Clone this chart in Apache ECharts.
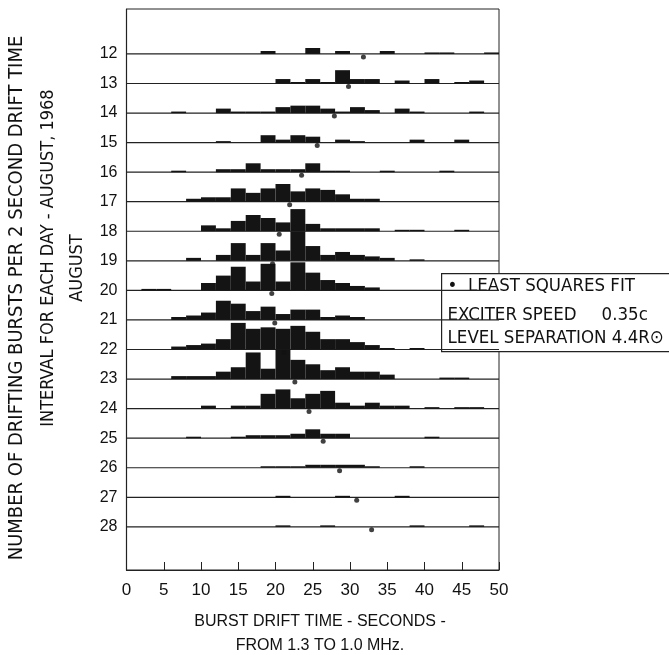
<!DOCTYPE html>
<html>
<head>
<meta charset="utf-8">
<script src="https://cdn.jsdelivr.net/npm/echarts@6/dist/echarts.min.js"></script>
<style>
  html, body { margin: 0; background: #fff; }
  #main { width: 669px; height: 655px; }
</style>
</head>
<body>
<div id="main"></div>
<script>
// days of August 1968, one histogram row each
const days = [12, 13, 14, 15, 16, 17, 18, 19, 20, 21, 22, 23, 24, 25, 26, 27, 28];
// 2 second drift time bins (start of each bin)
const binStarts = [0, 2, 4, 6, 8, 10, 12, 14, 16, 18, 20, 22, 24, 26, 28, 30, 32, 34, 36, 38, 40, 42, 44, 46, 48];
const BIN_WIDTH = 2;
// bursts per bin, one row per day
const counts = [
  [0,0,0,0,0,0,0,0,0,2,0,0,4,0,2,0,0,2,0,0,1,1,0,0,1], // 12
  [0,0,0,0,0,0,0,0,0,0,3,1,3,1,9,3,3,0,2,0,3,0,1,2,0], // 13
  [0,0,0,1,0,0,3,1,1,1,4,5,5,3,1,4,2,0,3,1,0,0,0,1,0], // 14
  [0,0,0,0,0,0,1,0,0,5,2,5,4,0,2,1,0,0,0,2,0,0,2,0,0], // 15
  [0,0,0,1,0,0,2,2,6,2,2,2,6,1,1,0,0,1,0,0,0,1,0,0,0], // 16
  [0,0,0,0,2,3,3,9,6,9,12,7,9,8,5,2,2,0,0,0,0,0,0,0,0], // 17
  [0,0,0,0,0,4,2,7,11,9,6,15,5,2,2,2,2,0,1,1,0,0,1,0,0], // 18
  [0,0,0,0,2,0,4,12,4,12,7,20,10,4,6,4,3,2,0,1,0,0,0,0,0], // 19
  [0,1,1,0,0,5,10,16,6,18,6,19,12,7,5,3,2,0,0,0,0,0,0,0,0], // 20
  [0,0,0,2,3,5,13,11,6,9,4,7,7,2,3,2,0,0,0,0,0,0,0,0,0], // 21
  [0,0,0,2,3,4,7,18,14,15,14,16,12,7,7,5,3,1,0,1,0,0,0,0,0], // 22
  [0,0,0,2,2,2,5,8,18,7,20,13,10,6,8,5,5,3,0,0,0,1,1,0,0], // 23
  [0,0,0,0,0,2,0,2,2,10,13,7,10,12,4,2,4,2,2,0,1,0,1,1,0], // 24
  [0,0,0,0,1,0,0,1,2,2,2,3,6,3,3,0,0,0,0,0,1,0,0,0,0], // 25
  [0,0,0,0,0,0,0,0,0,1,1,1,2,2,2,2,1,0,0,1,0,0,0,0,0], // 26
  [0,0,0,0,0,0,0,0,0,0,1,0,0,0,1,0,0,0,1,0,0,0,0,0,0], // 27
  [0,0,0,0,0,0,0,0,0,0,1,0,0,1,0,0,0,0,0,1,0,0,0,1,0]  // 28
];
// least squares fit drift time per day
const fitTimes = [31.8, 29.8, 27.9, 25.6, 23.5, 21.9, 20.5, 19.6, 19.5, 19.9, 21.1, 22.6, 24.5, 26.4, 28.6, 30.9, 32.9];
const xTicks = [0, 5, 10, 15, 20, 25, 30, 35, 40, 45, 50];

const COUNT_SCALE = 0.05; // row heights per burst
const narrow = '"Liberation Sans Narrow", "DejaVu Sans Condensed", "Liberation Sans", sans-serif';
const plain = '"Liberation Sans", Arial, sans-serif';

var barData = [];
days.forEach(function (day, r) {
  counts[r].forEach(function (n, i) {
    if (n > 0) barData.push([binStarts[i], binStarts[i] + BIN_WIDTH, day, n]);
  });
});
var lineData = days.map(function (d) { return [xTicks[0], xTicks[xTicks.length - 1], d]; });
var fitData = days.map(function (d, i) { return [fitTimes[i], d]; });

function renderBar(params, api) {
  var p0 = api.coord([api.value(0), api.value(2)]);
  var p1 = api.coord([api.value(1), api.value(2) - api.value(3) * COUNT_SCALE]);
  return {
    type: 'rect',
    shape: { x: p0[0], y: p1[1], width: p1[0] - p0[0], height: p0[1] - p1[1] },
    style: { fill: '#141414' }
  };
}

function renderBaseline(params, api) {
  var a = api.coord([api.value(0), api.value(2)]);
  var b = api.coord([api.value(1), api.value(2)]);
  return {
    type: 'line',
    shape: { x1: a[0], y1: a[1], x2: b[0], y2: b[1] },
    style: { stroke: '#222', lineWidth: 1.2 }
  };
}

var chart = echarts.init(document.getElementById('main'));
chart.setOption({
  backgroundColor: '#fff',
  animation: false,
  grid: { left: 126.5, right: 170, top: 9, bottom: 85, show: true, borderColor: '#222', borderWidth: 1 },
  xAxis: {
    type: 'value', min: 0, max: 50, interval: 5,
    axisLine: { lineStyle: { color: '#222', width: 1.2 } },
    axisTick: { inside: true, length: 8, lineStyle: { color: '#222' } },
    axisLabel: { fontSize: 17, fontFamily: plain, color: '#111', margin: 12 },
    splitLine: { show: false }
  },
  yAxis: {
    type: 'value', inverse: true, min: 10.48, max: 29.46,
    axisLine: { show: true, lineStyle: { color: '#222', width: 1.2 } },
    axisTick: { show: false },
    axisLabel: { customValues: days, fontSize: 16, fontFamily: plain, color: '#111', margin: 9, padding: [0, 0, 4, 0] },
    splitLine: { show: false }
  },
  series: [
    { type: 'custom', renderItem: renderBaseline, data: lineData, encode: { x: [0, 1], y: 2 }, z: 1, silent: true },
    { type: 'custom', renderItem: renderBar, data: barData, encode: { x: [0, 1], y: 2 }, z: 2, silent: true },
    { type: 'scatter', data: fitData, symbolSize: 5, symbolOffset: [0, 3], itemStyle: { color: '#111' }, z: 3, silent: true }
  ],
  graphic: [
    { type: 'text', x: 17, y: 298, rotation: Math.PI / 2,
      style: { text: 'NUMBER OF DRIFTING BURSTS PER 2 SECOND DRIFT TIME', font: '20px ' + narrow, fill: '#111', textAlign: 'center', textVerticalAlign: 'middle' } },
    { type: 'text', x: 48, y: 258, rotation: Math.PI / 2,
      style: { text: 'INTERVAL FOR EACH DAY - AUGUST, 1968', font: '18px ' + narrow, fill: '#111', textAlign: 'center', textVerticalAlign: 'middle' } },
    { type: 'text', x: 77, y: 268, rotation: Math.PI / 2,
      style: { text: 'AUGUST', font: '18px ' + narrow, fill: '#111', textAlign: 'center', textVerticalAlign: 'middle' } },
    { type: 'text', x: 320, y: 634,
      style: { text: 'BURST DRIFT TIME - SECONDS -\nFROM 1.3 TO 1.0 MHz.', font: '16px ' + plain, lineHeight: 24, fill: '#111', textAlign: 'center', textVerticalAlign: 'middle' } },
    {
      type: 'group', left: 441, top: 273, z: 100,
      children: [
        { type: 'rect', shape: { x: 0, y: 0, width: 240, height: 78 }, style: { fill: '#fff', stroke: '#222', lineWidth: 1.2 } },
        { type: 'text', x: 6, y: 13, style: { text: '•  LEAST SQUARES FIT', font: '18.5px ' + narrow, fill: '#111', textVerticalAlign: 'middle' } },
        { type: 'text', x: 6, y: 42, style: { text: 'EXCITER SPEED', font: '18.5px ' + narrow, fill: '#111', textVerticalAlign: 'middle' } },
        { type: 'text', x: 160, y: 42, style: { text: '0.35c', font: '18.5px ' + narrow, fill: '#111', textVerticalAlign: 'middle' } },
        { type: 'text', x: 6, y: 65, style: { text: 'LEVEL SEPARATION 4.4R⊙', font: '18.5px ' + narrow, fill: '#111', textVerticalAlign: 'middle' } }
      ]
    }
  ]
});
</script>
</body>
</html>
